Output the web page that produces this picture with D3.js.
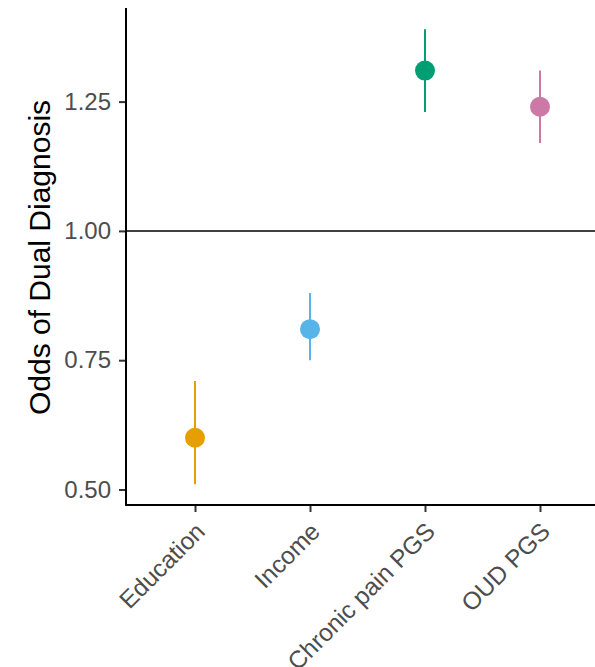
<!DOCTYPE html>
<html>
<head>
<meta charset="utf-8">
<script src="https://cdn.jsdelivr.net/npm/d3@7"></script>
<style>
  body { margin: 0; background: white; }
  text { font-family: "Liberation Sans", Arial, sans-serif; }
</style>
</head>
<body>
<div id="chart"></div>
<script>

// odds ratios with confidence intervals
categories = ["Education", "Income", "Chronic pain PGS", "OUD PGS"]
oddsValues = [0.60, 0.81, 1.31, 1.24]
lowerCI = [0.51, 0.75, 1.23, 1.17]
upperCI = [0.71, 0.88, 1.39, 1.31]
yTicks = [0.50, 0.75, 1.00, 1.25]
colorList = ["#E69F00", "#56B4E9", "#009E73", "#CC79A7"]

var width = 595, height = 667
var plotLeft = 126, plotTop = 8, plotBottom = 505

var svg = d3.select("#chart").append("svg")
  .attr("width", width)
  .attr("height", height)

var y = d3.scaleLinear()
  .domain([0.47, 1.431])
  .range([plotBottom, plotTop])

// ggplot style discrete expansion: 0.6 units each side
var x = d3.scalePoint()
  .domain(categories)
  .range([plotLeft, 609])
  .padding(0.6)

var rows = categories.map(function(c, i) {
  return {cat: c, val: oddsValues[i], lo: lowerCI[i], hi: upperCI[i], col: colorList[i]}
})

// reference line at 1
svg.append("line")
  .attr("x1", plotLeft)
  .attr("x2", width)
  .attr("y1", y(1))
  .attr("y2", y(1))
  .attr("stroke", "black")
  .attr("stroke-width", 1.5)

// error bars
svg.selectAll(".ci")
  .data(rows)
  .enter()
  .append("line")
  .attr("class", "ci")
  .attr("x1", function(d) { return x(d.cat) })
  .attr("x2", function(d) { return x(d.cat) })
  .attr("y1", function(d) { return y(d.lo) })
  .attr("y2", function(d) { return y(d.hi) })
  .attr("stroke", function(d) { return d.col })
  .attr("stroke-width", 2)

svg.selectAll(".pt")
  .data(rows)
  .enter()
  .append("circle")
  .attr("class", "pt")
  .attr("cx", function(d) { return x(d.cat) })
  .attr("cy", function(d) { return y(d.val) })
  .attr("r", 10)
  .attr("fill", function(d) { return d.col })

// y axis
var yAxis = svg.append("g")
  .attr("transform", "translate(" + plotLeft + ",0)")
  .call(d3.axisLeft(y).tickValues(yTicks).tickFormat(d3.format(".2f")).tickSize(7).tickPadding(8))

yAxis.select(".domain").remove()
yAxis.append("line")
  .attr("x1", 0).attr("x2", 0)
  .attr("y1", plotTop).attr("y2", plotBottom + 1)
  .attr("stroke", "black")
  .attr("stroke-width", 2)
yAxis.selectAll(".tick line").attr("stroke", "#333").attr("stroke-width", 2)
yAxis.selectAll(".tick text")
  .attr("fill", "#4D4D4D")
  .style("font-size", "24px")
  .style("font-family", "Liberation Sans, Arial, sans-serif")

// x axis
var xAxis = svg.append("g")
  .attr("transform", "translate(0," + plotBottom + ")")
  .call(d3.axisBottom(x).tickSize(7).tickPadding(4))

xAxis.select(".domain").remove()
xAxis.append("line")
  .attr("x1", plotLeft - 1).attr("x2", width)
  .attr("y1", 0).attr("y2", 0)
  .attr("stroke", "black")
  .attr("stroke-width", 2)
xAxis.selectAll(".tick line").attr("stroke", "#333").attr("stroke-width", 2)
xAxis.selectAll(".tick text")
  .attr("fill", "#4D4D4D")
  .style("font-size", "24.5px")
  .style("font-family", "Liberation Sans, Arial, sans-serif")
  .attr("text-anchor", "end")
  .attr("dy", null)
  .attr("y", 0)
  .attr("x", 0)
  .attr("transform", "translate(11,28) rotate(-45)")

// axis title
svg.append("text")
  .attr("transform", "translate(50," + ((plotTop + plotBottom) / 2 + 1) + ") rotate(-90)")
  .attr("text-anchor", "middle")
  .style("font-size", "30px")
  .attr("fill", "black")
  .text("Odds of Dual Diagnosis")

</script>
</body>
</html>
